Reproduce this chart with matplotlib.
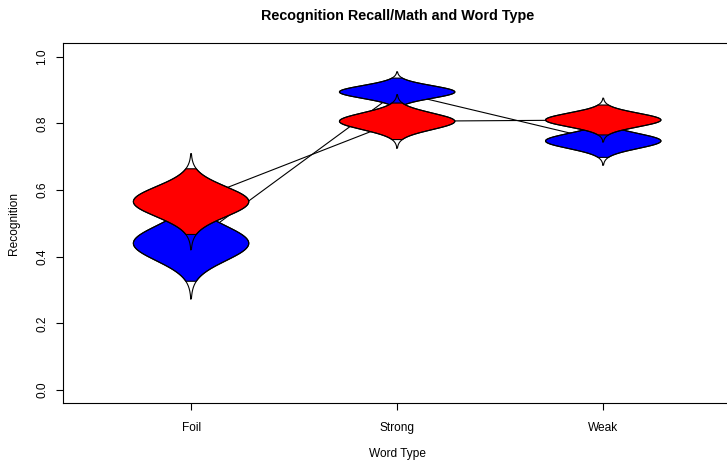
import numpy as np
import matplotlib.pyplot as plt

plt.rcParams['font.family'] = ['Liberation Sans', 'DejaVu Sans']

# posterior summaries per word type (mean and sd of recognition)
word_types = ["Foil", "Strong", "Weak"]
blue_means = [0.440, 0.894, 0.747]
blue_sds = [0.052, 0.019, 0.0225]
red_means = [0.565, 0.806, 0.810]
red_sds = [0.045, 0.025, 0.0205]

HALF_W = 0.28     # max half-width of a bean in x units
Z_FILL = 2.2      # shaded interval, in sd
Z_TAIL = 3.2      # where the outline stops


def bean(ax, x0, mu, sd, color):
    z = np.linspace(-Z_TAIL, Z_TAIL, 400)
    y = mu + z * sd
    w = HALF_W * np.exp(-0.5 * z**2)
    # shaded middle part
    m = np.abs(z) <= Z_FILL
    xs = np.concatenate([x0 - w[m], (x0 + w[m])[::-1]])
    ys = np.concatenate([y[m], y[m][::-1]])
    ax.fill(xs, ys, facecolor=color, edgecolor="black", lw=0.8, zorder=3)
    # full outline, tails left open
    xo = np.concatenate([x0 - w, (x0 + w)[::-1], [x0 - w[0]]])
    yo = np.concatenate([y, y[::-1], [y[0]]])
    ax.plot(xo, yo, color="black", lw=0.8, zorder=3)


fig = plt.figure(figsize=(7.27, 4.61), dpi=100)
ax = fig.add_axes([63.3 / 727, 1 - 403.3 / 461, (731 - 63.3) / 727, 360 / 461])

xpos = np.arange(1, len(word_types) + 1)
ax.plot(xpos, blue_means, color="black", lw=0.8, zorder=1)
ax.plot(xpos, red_means, color="black", lw=0.8, zorder=1)

for i, x0 in enumerate(xpos):
    bean(ax, x0, blue_means[i], blue_sds[i], "#0000FF")
    bean(ax, x0, red_means[i], red_sds[i], "#FF0000")

ax.set_xlim(0.38, 3.62)
ax.set_ylim(-0.04, 1.04)
ax.set_xticks(xpos)
ax.set_xticklabels(word_types)
ax.set_yticks(np.arange(0, 1.01, 0.2))
ax.set_yticklabels(["0.0", "0.2", "0.4", "0.6", "0.8", "1.0"], rotation=90, va="center")
ax.tick_params(axis="both", direction="out", length=4.8, width=0.8, labelsize=8.6)
ax.tick_params(axis="y", pad=6)
ax.tick_params(axis="x", pad=8.5)
for s in ax.spines.values():
    s.set_linewidth(0.8)

ax.set_xlabel("Word Type", fontsize=8.6, labelpad=10.5)
ax.set_ylabel("Recognition", fontsize=8.6, labelpad=11.5)
ax.set_title("Recognition Recall/Math and Word Type", fontsize=10.4,
             fontweight="bold", pad=17)

fig.savefig("out.png", dpi=100)
